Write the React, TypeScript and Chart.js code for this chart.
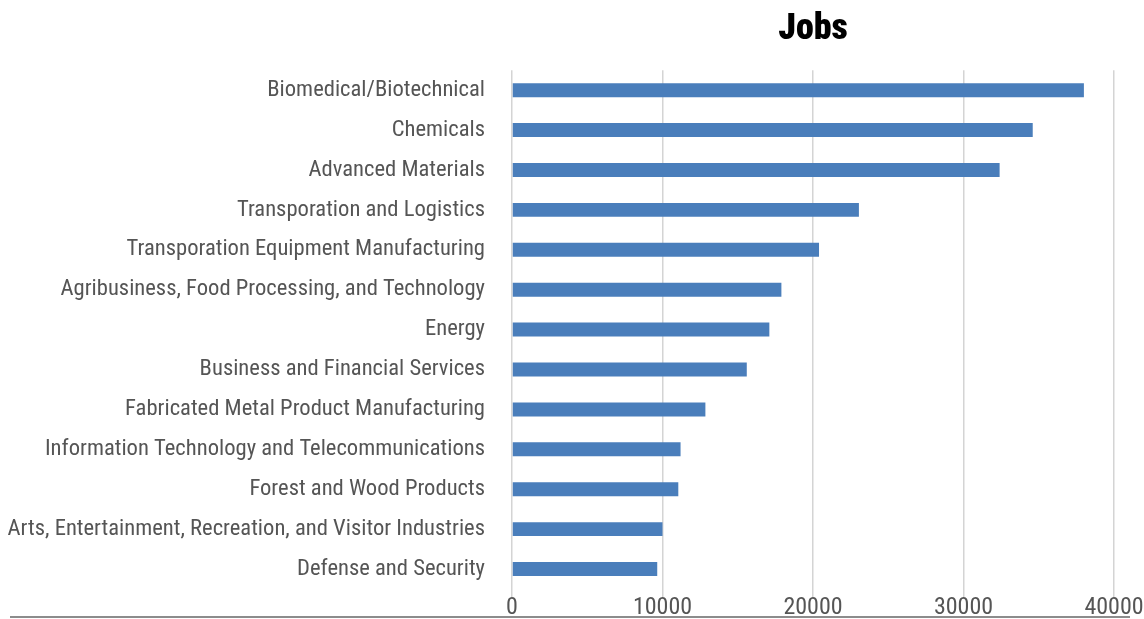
import React, { useEffect, useRef } from "react";
import { Chart, registerables } from "chart.js";

Chart.register(...registerables);

const categories: string[] = [
  "Biomedical/Biotechnical",
  "Chemicals",
  "Advanced Materials",
  "Transporation and Logistics",
  "Transporation Equipment Manufacturing",
  "Agribusiness, Food Processing, and Technology",
  "Energy",
  "Business and Financial Services",
  "Fabricated Metal Product Manufacturing",
  "Information Technology and Telecommunications",
  "Forest and Wood Products",
  "Arts, Entertainment, Recreation, and Visitor Industries",
  "Defense and Security",
];

const jobs: number[] = [
  38000, 34600, 32400, 23050, 20400, 17900, 17100, 15600, 12850, 11200, 11050,
  10000, 9650,
];

const xTickValues: number[] = [0, 10000, 20000, 30000, 40000];

const FONT = "'Roboto Condensed', Roboto, 'DejaVu Sans Condensed', sans-serif";

export default function App() {
  const canvasRef = useRef<HTMLCanvasElement | null>(null);

  useEffect(() => {
    if (!canvasRef.current) return;
    const chart = new Chart(canvasRef.current, {
      type: "bar",
      data: {
        labels: categories,
        datasets: [
          {
            label: "Jobs",
            data: jobs,
            backgroundColor: "#4a7ebb",
            borderWidth: 0,
            barPercentage: 0.35,
            categoryPercentage: 1,
          },
        ],
      },
      options: {
        indexAxis: "y",
        animation: false,
        responsive: false,
        layout: { padding: { left: 0, right: 30, top: 0, bottom: 0 } },
        plugins: {
          legend: { display: false },
          tooltip: { enabled: false },
          title: {
            display: true,
            text: "Jobs",
            fullSize: false,
            color: "#000000",
            font: { family: FONT, size: 36, weight: "900", lineHeight: 1.2 },
            padding: { top: 8, bottom: 19 },
          },
        },
        scales: {
          x: {
            type: "linear",
            min: 0,
            max: 40000,
            afterBuildTicks: (scale: any) => {
              scale.ticks = xTickValues.map((v) => ({ value: v }));
            },
            afterFit: (scale: any) => {
              scale.height = 30;
              scale.paddingLeft = 0;
              scale.paddingRight = 0;
            },
            grid: {
              display: true,
              color: "#d4d4d4",
              lineWidth: 1.5,
              drawTicks: true,
              tickLength: 8,
            },
            border: { display: false },
            ticks: {
              color: "#555555",
              font: { family: FONT, size: 24, lineHeight: 1 },
              padding: -1,
              maxRotation: 0,
              callback: (v: any) => String(v),
            },
          },
          y: {
            grid: { display: false, drawTicks: false },
            border: { display: false },
            afterFit: (scale: any) => {
              scale.width = 512;
              scale.paddingTop = 0;
              scale.paddingBottom = 0;
            },
            ticks: {
              color: "#555555",
              font: { family: FONT, size: 22.6, lineHeight: 1.2 },
              padding: 27,
              autoSkip: false,
            },
          },
        },
      },
    });
    return () => chart.destroy();
  }, []);

  return (
    <div
      style={{
        position: "fixed",
        left: 0,
        top: 0,
        width: 1144,
        height: 619,
        background: "#ffffff",
      }}
    >
      <canvas ref={canvasRef} width={1144} height={619} style={{ display: "block" }} />
      <div
        style={{
          position: "absolute",
          left: 10,
          top: 616,
          width: 1120,
          height: 2,
          background: "#8c8c8c",
        }}
      />
    </div>
  );
}
